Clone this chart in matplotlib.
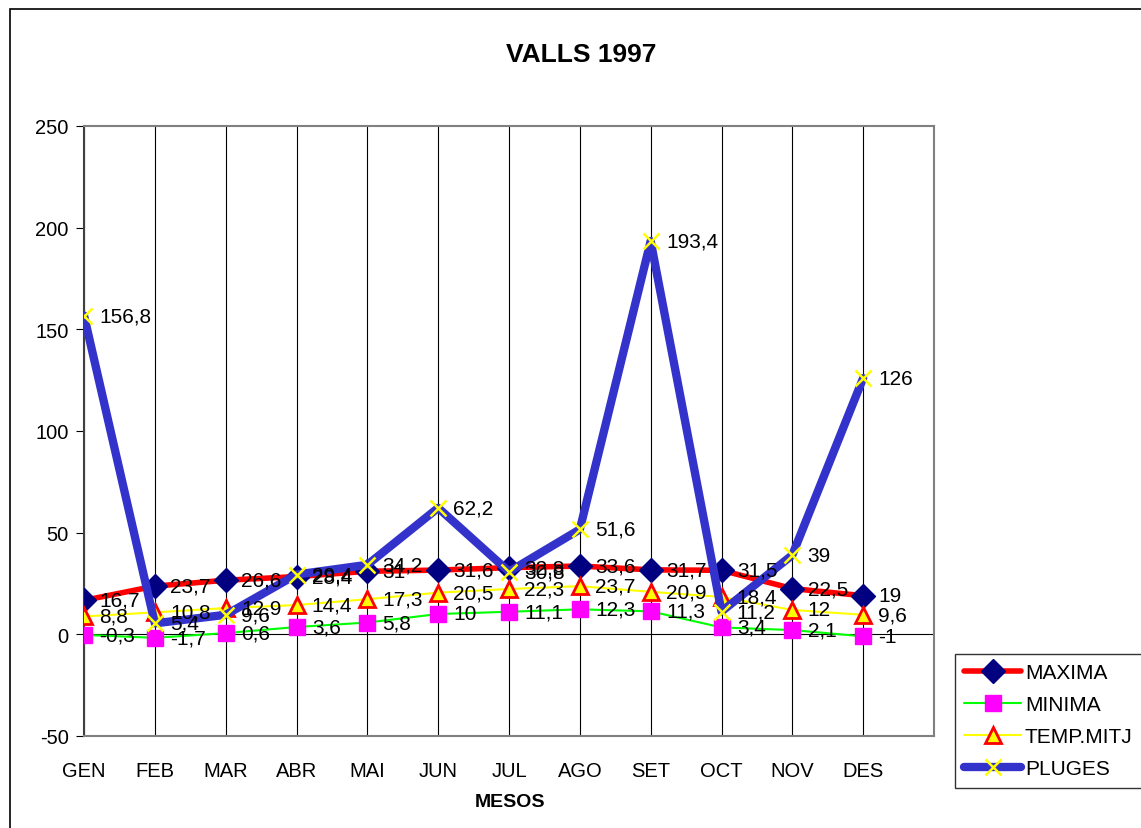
import numpy as np
import matplotlib
matplotlib.use("Agg")
import matplotlib.pyplot as plt
from matplotlib.patches import Rectangle

plt.rcParams['font.family'] = ['Liberation Sans', 'DejaVu Sans']
plt.rcParams['axes.unicode_minus'] = False

mesos = ["GEN", "FEB", "MAR", "ABR", "MAI", "JUN", "JUL", "AGO", "SET", "OCT", "NOV", "DES"]
maxima = [16.7, 23.7, 26.6, 28.4, 31, 31.6, 32.8, 33.6, 31.7, 31.5, 22.5, 19]
minima = [-0.3, -1.7, 0.6, 3.6, 5.8, 10, 11.1, 12.3, 11.3, 3.4, 2.1, -1]
temp_mitj = [8.8, 10.8, 12.9, 14.4, 17.3, 20.5, 22.3, 23.7, 20.9, 18.4, 12, 9.6]
pluges = [156.8, 5.4, 9.6, 29.4, 34.2, 62.2, 30.8, 51.6, 193.4, 11.2, 39, 126]

def fmt(v):
    s = ("%.1f" % v).rstrip("0").rstrip(".")
    return s.replace(".", ",")

fig = plt.figure(figsize=(11.41, 8.29), dpi=100)
ax = fig.add_axes([84 / 1141, 1 - 737 / 829, 850 / 1141, 610 / 829])

x = np.arange(len(mesos))
series = [
    ("MAXIMA", maxima, dict(color="#FF0000", lw=4, marker="D", ms=12, mfc="#000080", mec="#000080")),
    ("MINIMA", minima, dict(color="#00FF00", lw=1.5, marker="s", ms=11.5, mfc="#FF00FF", mec="#FF00FF")),
    ("TEMP.MITJ", temp_mitj, dict(color="#FFFF00", lw=1.5, marker="^", ms=11, mfc="#FFFF00", mec="#FF0000", mew=2)),
    ("PLUGES", pluges, dict(color="#3333CC", lw=6, marker="x", ms=12, mec="#FFFF00", mew=1.8)),
]
for i, (name, vals, st) in enumerate(series):
    ax.plot(x, vals, label=name, zorder=3 + i, solid_capstyle="round", **st)
    for xi, v in zip(x, vals):
        ax.annotate(fmt(v), (xi, v), xytext=(11, 0), textcoords="offset points",
                    va="center", ha="left", fontsize=15, zorder=10)

ax.set_xlim(0, 12)
ax.set_ylim(-50, 250)
ax.set_yticks(np.arange(-50, 251, 50))
ax.set_xticks(x)
ax.set_xticklabels(mesos)
ax.tick_params(axis="x", length=0, pad=18, labelsize=14.5)
ax.tick_params(axis="y", length=6, direction="out", labelsize=14.5, pad=5)
for xv in range(0, 13):
    ax.axvline(xv, color="black", lw=0.8, zorder=1)
ax.axhline(0, color="black", lw=0.8, zorder=1)
for s in ["top", "right", "bottom"]:
    ax.spines[s].set_color("#808080")
    ax.spines[s].set_linewidth(1.5)
ax.spines["left"].set_linewidth(1.5)
ax.spines["left"].set_color("#404040")

fig.text(581 / 1141, 1 - 55 / 829, "VALLS 1997", ha="center", va="center",
         fontsize=19, fontweight="bold")
fig.text(510 / 1141, 1 - 803 / 829, "MESOS", ha="center", va="center",
         fontsize=14, fontweight="bold")

leg = fig.legend(loc="upper left", bbox_to_anchor=(955 / 1141, 1 - 655 / 829),
                 frameon=True, fancybox=False, fontsize=15, handlelength=2.7,
                 borderaxespad=0, labelspacing=0.62, handletextpad=0.2,
                 borderpad=0.45)
leg.get_frame().set_edgecolor("black")
leg.get_frame().set_linewidth(1)

fig.add_artist(Rectangle((10 / 1141, -0.01), 1.0, 1 - 10 / 829 + 0.01,
                         transform=fig.transFigure, fill=False,
                         edgecolor="black", lw=1.2))

fig.savefig("out.png", dpi=100)
